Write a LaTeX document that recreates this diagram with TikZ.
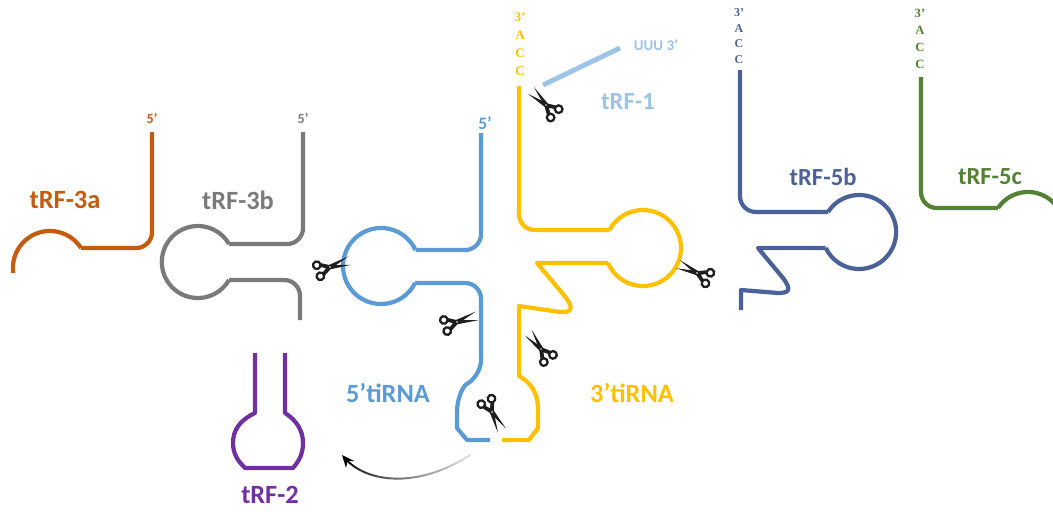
\documentclass[tikz,border=0pt]{standalone}
\usepackage{fontspec}
\setmainfont{Carlito}
\newfontfamily\accfont{Liberation Serif}
\usetikzlibrary{arrows.meta}
\definecolor{trforange}{HTML}{C55A11}
\definecolor{trfgray}{HTML}{7A7A7A}
\definecolor{tiblue}{HTML}{5B9BD5}
\definecolor{tiyellow}{HTML}{FFC000}
\definecolor{trflight}{HTML}{9DC3E6}
\definecolor{trfnavy}{HTML}{4A6298}
\definecolor{trfgreen}{HTML}{548235}
\definecolor{trfpurple}{HTML}{7030A0}
\definecolor{scblack}{HTML}{1E1E1E}

\begin{document}
\begin{tikzpicture}[
  x=0.02cm, y=-0.02cm,
  strand/.style={line width=2.4pt, line join=round},
  fraglabel/.style={font=\fontsize{15}{18}\selectfont\bfseries, inner sep=0pt},
  endlabel/.style={font=\fontsize{8}{9}\selectfont\bfseries, inner sep=0pt},
  acc/.style={font=\accfont\bfseries\fontsize{7.5}{10.2}\selectfont, align=center, inner sep=0pt},
  scissors/.pic={
    \fill[scblack] (-9,3.2) -- (-1,-2.2) -- (21,-4.5) -- (0.5,1.8) -- (-7,6.2) -- cycle;
    \fill[scblack] (-9,-3.2) -- (-1,2.2) -- (21,4.5) -- (0.5,-1.8) -- (-7,-6.2) -- cycle;
    \draw[scblack, line width=1.3pt] (-12,5.8) circle (3.8) (-12,-5.8) circle (3.8);
    \fill[white] (0,0) circle (0.9);
  },
]

\useasboundingbox (0,0) rectangle (1053,511);
\clip (0,0) rectangle (1053,511);

% tRF-3a
\draw[strand, trforange] (152,132) [rounded corners=9pt] -- (152,248) -- (81,248);
\draw[strand, trforange] (81,248) arc (-32.7:-187.8:37);
\node[endlabel, text=trforange] (p3a) at (152,118) {5’};
\node[fraglabel, text=trforange] (l3a) at (65,200) {tRF-3a};

% tRF-3b
\draw[strand, trfgray] (303,132) [rounded corners=9pt] -- (303,244) -- (229,244);
\draw[strand, trfgray] (229,244) arc (-30:-330:36);
\draw[strand, trfgray] (229,280) [rounded corners=9pt] -- (300,280) -- (300,320);
\node[endlabel, text=trfgray] (p3b) at (303,118) {5’};
\node[fraglabel, text=trfgray] (l3b) at (238,200) {tRF-3b};

% 5' tiRNA
\draw[strand, tiblue] (481,133) [rounded corners=9pt] -- (481,250) -- (415.5,250);
\draw[strand, tiblue] (415.5,250) arc (-24.9:-333.4:38);
\draw[strand, tiblue] (415,283) [rounded corners=9pt] -- (481,283) -- (481,376) [sharp corners]
  .. controls (463,386) and (457,398) .. (457,412) -- (457,428) -- (467,440) -- (490,440);
\node[endlabel, font=\fontsize{10}{11}\selectfont\bfseries, text=tiblue] (p5ti) at (485,123) {5’};
\node[fraglabel, text=tiblue] (l5ti) at (388,393) {5’tiRNA};

% 3' tiRNA
\draw[strand, tiyellow] (519,86) [rounded corners=9pt] -- (519,230) -- (609.5,230);
\draw[strand, tiyellow] (609.5,230) arc (208.3:516.7:38);
\draw[strand, tiyellow] (608,263) -- (537,263) -- (563,294)
  .. controls (575,308) and (572,313) .. (560,312) -- (519,306) -- (519,376)
  .. controls (536,386) and (538,398) .. (538,412) -- (538,428) -- (529,440) -- (502,440);
\node[acc, text=tiyellow] (acc3) at (520,44) {3’\\A\\C\\C};
\node[fraglabel, text=tiyellow] (l3ti) at (632,393) {3’tiRNA};

% tRF-1
\draw[trflight, line width=2.8pt] (543,85) coordinate (t1a) -- (620,48) coordinate (t1b);
\node[endlabel, font=\fontsize{8.5}{9}\selectfont\bfseries, text=trflight] (uuu) at (656,45) {UUU 3’};
\node[fraglabel, font=\fontsize{14}{17}\selectfont\bfseries, text=trflight] (l1) at (628,102) {tRF-1};

% tRF-2
\draw[strand, trfpurple] (255,353) -- (255,413)
  .. controls (240,420) and (233,430) .. (233,443)
  .. controls (233,455) and (239,462) .. (245,468) -- (293,468)
  .. controls (298,462) and (303,455) .. (303,443)
  .. controls (303,430) and (296,420) .. (285,413) -- (285,353);
\node[fraglabel, text=trfpurple] (l2) at (270,495) {tRF-2};

% tRF-5b
\draw[strand, trfnavy] (740,70) [rounded corners=9pt] -- (740,212) -- (828,212);
\draw[strand, trfnavy] (828,212) arc (212.7:514.4:37);
\draw[strand, trfnavy] (825.6,248) -- (758,248) -- (783,278)
  .. controls (792,290) and (789,293) .. (778,293) -- (741,290) -- (741,310);
\node[acc, font=\accfont\bfseries\fontsize{6.8}{8.9}\selectfont, text=trfnavy] (acc5b) at (739,36) {3’\\A\\C\\C};
\node[fraglabel, font=\fontsize{14}{17}\selectfont\bfseries, text=trfnavy] (l5b) at (823,177) {tRF-5b};

% tRF-5c
\draw[strand, trfgreen] (921,77) [rounded corners=9pt] -- (921,208) -- (998,208);
\draw[strand, trfgreen] (998,208) arc (213.7:340:36);
\node[acc, font=\accfont\bfseries\fontsize{7.2}{9.8}\selectfont, text=trfgreen] (acc5c) at (920,39) {3’\\A\\C\\C};
\node[fraglabel, font=\fontsize{14}{17}\selectfont\bfseries, text=trfgreen] (l5c) at (990,177) {tRF-5c};

% cleavage sites
\pic[rotate=136] at (546,105) {scissors};
\pic[rotate=18] at (330,267) {scissors};
\pic[rotate=17] at (457,322) {scissors};
\pic[rotate=128] at (541,349) {scissors};
\pic[rotate=-62] at (492,412) {scissors};
\pic[rotate=155] at (697,273) {scissors};

% fading arrow towards tRF-2
\coordinate (arrfrom) at (470,455);
\coordinate (arrto) at (342,455);
\foreach \i in {0,...,20}
  \path (arrfrom) .. controls (420,488) and (365,485) .. (arrto) coordinate[pos=\i/20] (g\i);
\foreach \i [evaluate=\i as \j using int(\i+1), evaluate=\i as \k using int(15+85*\i/19)] in {0,...,18}
  \draw[black!\k, line width=1.1pt, line cap=round] (g\i) -- (g\j);
\draw[black, line width=1.1pt, -{Stealth[length=7pt, width=6pt]}] (g19) -- (g20);

\end{tikzpicture}
\end{document}
